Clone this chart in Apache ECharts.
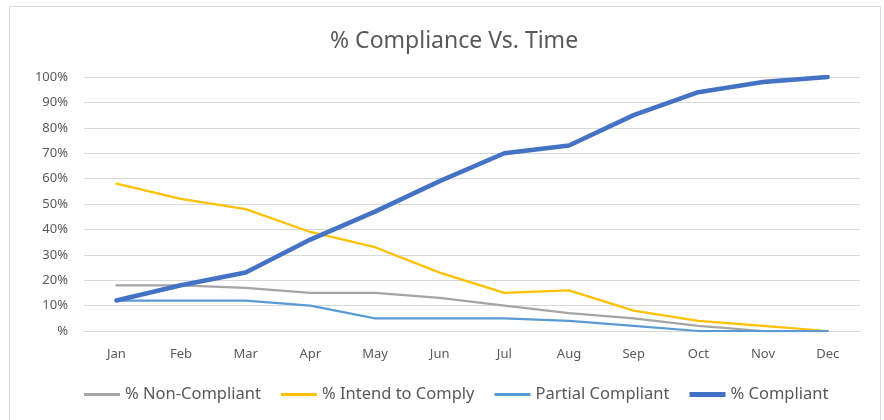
<!DOCTYPE html>
<html><head><meta charset="utf-8">
<script src="https://cdn.jsdelivr.net/npm/echarts@6/dist/echarts.min.js"></script>
<style>html,body{margin:0;padding:0;background:#fff}#c{width:884px;height:420px}</style>
</head><body><div id="c"></div>
<script>
var months = ["Jan","Feb","Mar","Apr","May","Jun","Jul","Aug","Sep","Oct","Nov","Dec"];
var nonCompliant = [18,18,17,15,15,13,10,7,5,2,0,0];
var intendToComply = [58,52,48,39,33,23,15,16,8,4,2,0];
var partialCompliant = [12,12,12,10,5,5,5,4,2,0,0,0];
var compliant = [12,18,23,36,47,59,70,73,85,94,98,100];
var yTicks = [0,10,20,30,40,50,60,70,80,90,100];

var FONT = "Noto Sans";
var chart = echarts.init(document.getElementById('c'));
function line(name, data, color, width) {
  return {name:name, type:'line', data:data, symbol:'none', smooth:false,
    lineStyle:{color:color, width:width, cap:'round', join:'round'}, itemStyle:{color:color}};
}
var thinIcon = 'path://M0,0L0.01,0L0,0.01Z M0,5.5H36V8.5H0Z M0,14L0.01,14L0,13.99Z';
var thickIcon = 'path://M0,0L0.01,0L0,0.01Z M0,4.5H36V9.5H0Z M0,14L0.01,14L0,13.99Z';
chart.setOption({
  animation:false,
  textStyle:{fontFamily:FONT},
  graphic:[{type:'rect', shape:{x:9.5,y:6.5,width:871,height:430}, style:{fill:null, stroke:'#D9D9D9', lineWidth:1}, silent:true}],
  title:{text:'% Compliance Vs. Time', left:325, top:25,
    textStyle:{fontFamily:FONT, fontSize:23, fontWeight:'normal', color:'#595959'}},
  grid:{left:84, right:24, top:77, bottom:89},
  legend:{bottom:12, left:79, itemWidth:36, itemHeight:14, itemGap:20,
    textStyle:{fontFamily:FONT, fontSize:16.5, color:'#595959'},
    data:[
      {name:'% Non-Compliant', icon:thinIcon},
      {name:'% Intend to Comply', icon:thinIcon},
      {name:'Partial Compliant', icon:thinIcon},
      {name:'% Compliant', icon:thickIcon}
    ]},
  xAxis:{type:'category', data:months, boundaryGap:true,
    axisLine:{lineStyle:{color:'#D9D9D9'}}, axisTick:{show:false},
    axisLabel:{color:'#595959', fontSize:13, margin:17, fontFamily:FONT}},
  yAxis:{type:'value', min:0, max:100, interval:10,
    axisLine:{show:false}, axisTick:{show:false},
    splitLine:{lineStyle:{color:'#D9D9D9', width:1}},
    axisLabel:{color:'#595959', fontSize:13, margin:16, fontFamily:FONT,
      formatter:function(v){ return yTicks.indexOf(v) >= 0 ? (v===0 ? '%' : v+'%') : ''; }}},
  series:[
    line('% Non-Compliant', nonCompliant, '#A5A5A5', 2.25),
    line('% Intend to Comply', intendToComply, '#FFC000', 2.25),
    line('Partial Compliant', partialCompliant, '#5B9BD5', 2.25),
    line('% Compliant', compliant, '#4472C4', 4.5)
  ]
});
</script></body></html>
